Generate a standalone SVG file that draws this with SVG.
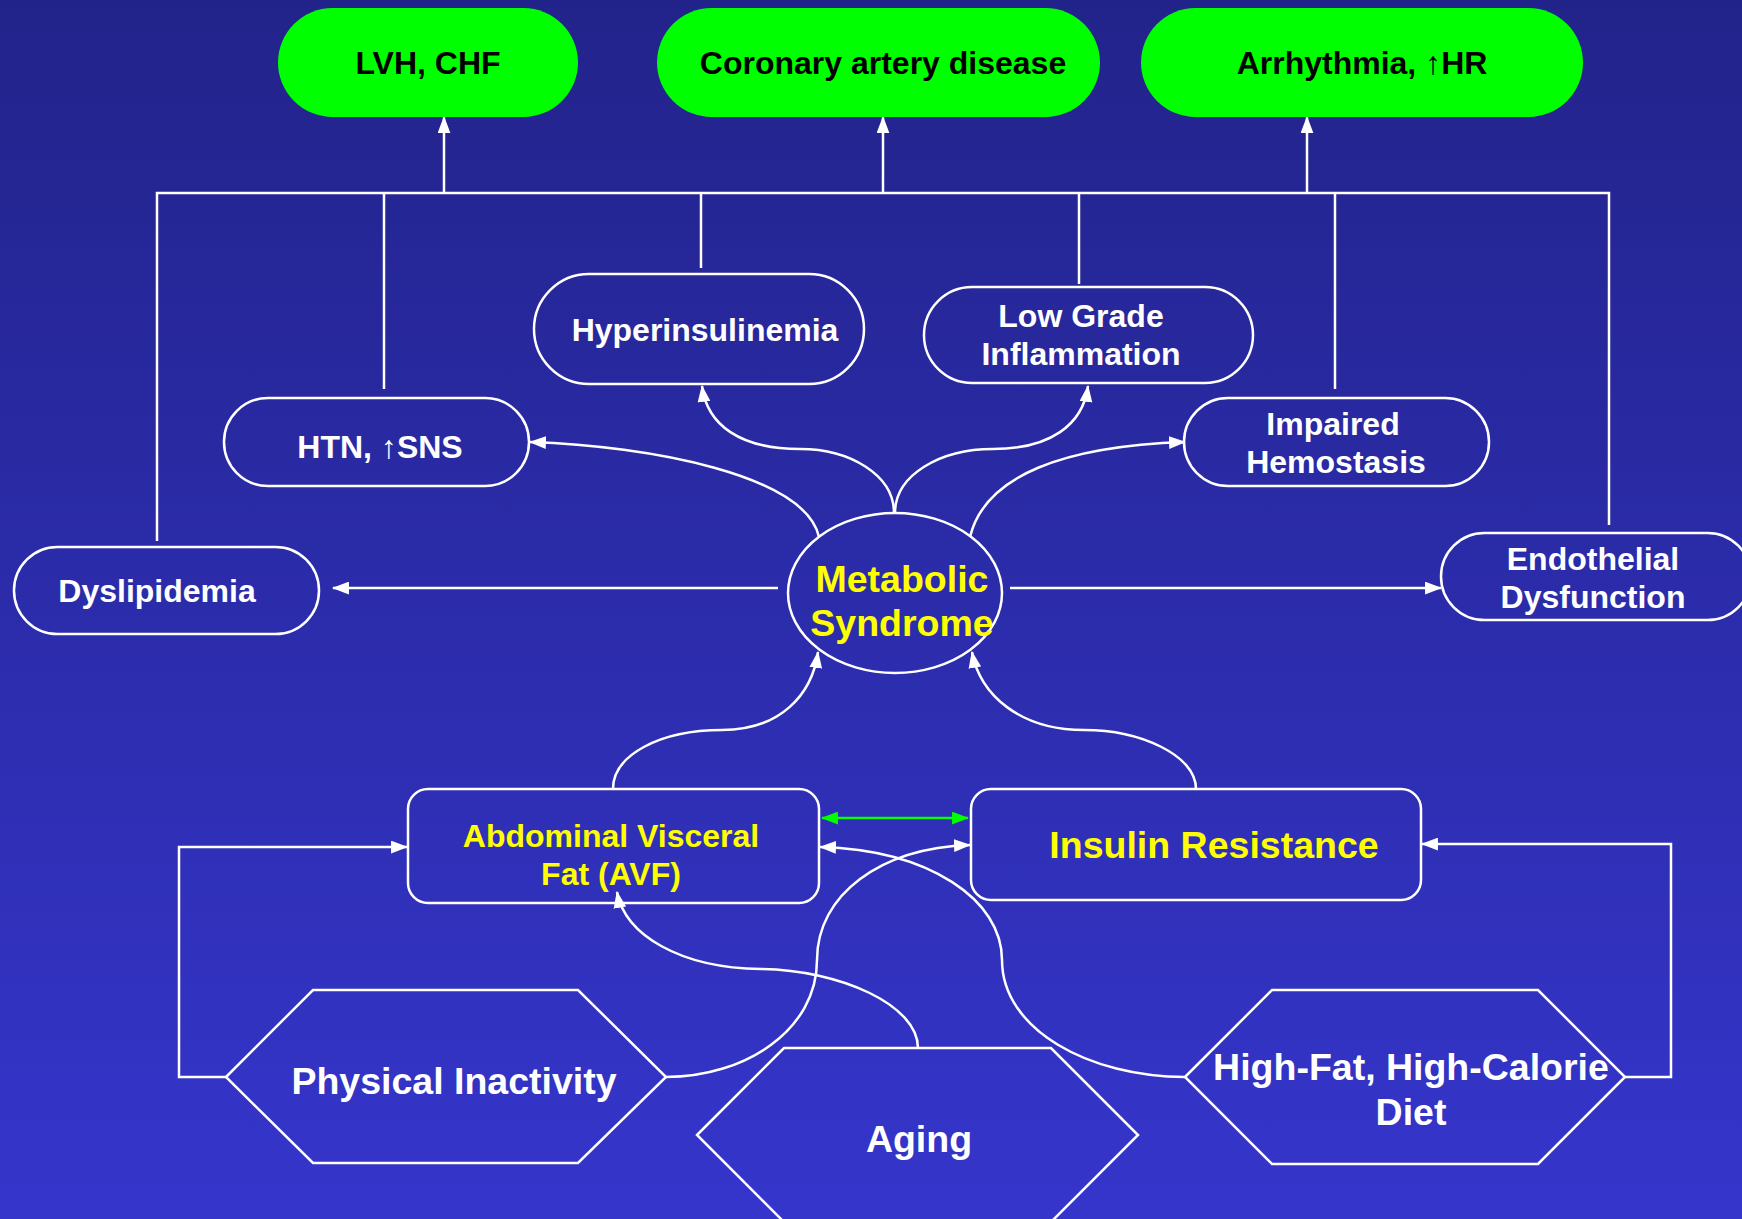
<svg xmlns="http://www.w3.org/2000/svg" width="1742" height="1219" viewBox="0 0 1742 1219">
<defs>
<linearGradient id="bg" x1="0" y1="0" x2="0" y2="1">
<stop offset="0" stop-color="#22238A"/>
<stop offset="1" stop-color="#3535CC"/>
</linearGradient>
<marker id="ah" viewBox="0 0 16 12" refX="15" refY="6" markerWidth="17" markerHeight="13" markerUnits="userSpaceOnUse" orient="auto"><path d="M0,0 L16,6 L0,12 z" fill="#fff"/></marker>
<marker id="ag" viewBox="0 0 16 12" refX="15" refY="6" markerWidth="17" markerHeight="13" markerUnits="userSpaceOnUse" orient="auto-start-reverse"><path d="M0,0 L16,6 L0,12 z" fill="#00FF00"/></marker>
<style>
.g{fill:#00FF00}
.n{fill:none;stroke:#fff;stroke-width:2.5}
.t{font-family:"Liberation Sans",Arial,sans-serif;font-weight:bold;text-anchor:middle}
.tb{fill:#000;font-size:32px}
.tw{fill:#fff;font-size:32px}
.tw37{fill:#fff;font-size:37.5px}
.ty{fill:#FFFF00;font-size:32px}
.ty37{fill:#FFFF00;font-size:37.5px}
.c{fill:none;stroke:#fff;stroke-width:2.5}
.ca{fill:none;stroke:#fff;stroke-width:2.5;marker-end:url(#ah)}
</style>
</defs>
<rect width="1742" height="1219" fill="url(#bg)"/>

<g id="connectors">
<polyline class="c" points="157,541 157,193 1609,193 1609,525"/>
<line class="c" x1="384" y1="193" x2="384" y2="389"/>
<line class="c" x1="701" y1="193" x2="701" y2="268"/>
<line class="c" x1="1079" y1="193" x2="1079" y2="284"/>
<line class="c" x1="1335" y1="193" x2="1335" y2="389"/>
<line class="ca" x1="444" y1="193" x2="444" y2="117"/>
<line class="ca" x1="883" y1="193" x2="883" y2="117"/>
<line class="ca" x1="1307" y1="193" x2="1307" y2="117"/>
<line class="ca" x1="778" y1="588" x2="333" y2="588"/>
<line class="ca" x1="1010" y1="588" x2="1441" y2="588"/>
<path class="ca" d="M819,537 C805,475 650,446 530,442"/>
<path class="ca" d="M970,537 C985,475 1065,446 1185,442"/>
<path class="ca" d="M894,513 C894,475 850,449 800,449 C740,449 707,425 702,386"/>
<path class="ca" d="M895,513 C895,475 940,449 993,449 C1050,449 1083,425 1088,386"/>
<path class="ca" d="M613,789 C613,755 660,730 722,730 C780,730 812,695 818,652"/>
<path class="ca" d="M1196,789 C1196,755 1140,730 1084,730 C1020,730 980,695 972,652"/>
<line x1="822" y1="818" x2="968" y2="818" stroke="#00FF00" stroke-width="2.5" marker-start="url(#ag)" marker-end="url(#ag)"/>
<polyline class="ca" points="226,1077 179,1077 179,847 407,847"/>
<polyline class="ca" points="1625,1077 1671,1077 1671,844 1422,844"/>
<path class="ca" d="M666,1077 C745,1077 817,1030 817,960 C817,895 880,848 970,845"/>
<path class="ca" d="M1185,1077 C1090,1077 1002,1030 1002,960 C1002,900 930,850 820,847"/>
<path class="ca" d="M918,1048 C918,1005 840,970 761,969 C680,968 625,935 617,892"/>
</g>

<g id="lvh"><rect class="g" x="278" y="8" width="300" height="109" rx="54.5"/><text class="t tb" x="428" y="74">LVH, CHF</text></g>
<g id="cad"><rect class="g" x="657" y="8" width="443" height="109" rx="54.5"/><text class="t tb" x="883" y="74">Coronary artery disease</text></g>
<g id="arrhythmia"><rect class="g" x="1141" y="8" width="442" height="109" rx="54.5"/><text class="t tb" x="1362" y="74">Arrhythmia, ↑HR</text></g>

<g id="hyperinsulinemia"><rect class="n" x="534" y="274" width="330" height="110" rx="55"/><text class="t tw" x="705" y="341">Hyperinsulinemia</text></g>
<g id="inflammation"><rect class="n" x="924" y="287" width="329" height="96" rx="48"/><text class="t tw" x="1081" y="327">Low Grade</text><text class="t tw" x="1081" y="365">Inflammation</text></g>
<g id="htn"><rect class="n" x="224" y="398" width="305" height="88" rx="44"/><text class="t tw" x="380" y="458">HTN, ↑SNS</text></g>
<g id="hemostasis"><rect class="n" x="1184" y="398" width="305" height="88" rx="44"/><text class="t tw" x="1333" y="435">Impaired</text><text class="t tw" x="1336" y="473">Hemostasis</text></g>
<g id="dyslipidemia"><rect class="n" x="14" y="547" width="305" height="87" rx="43.5"/><text class="t tw" x="157" y="602">Dyslipidemia</text></g>
<g id="endothelial"><rect class="n" x="1441" y="533" width="310" height="87" rx="43.5"/><text class="t tw" x="1593" y="570">Endothelial</text><text class="t tw" x="1593" y="608">Dysfunction</text></g>
<g id="metabolic"><ellipse class="n" cx="895" cy="593" rx="107" ry="80"/><text class="t ty37" x="902" y="592">Metabolic</text><text class="t ty37" x="902" y="636">Syndrome</text></g>
<g id="avf"><rect class="n" x="408" y="789" width="411" height="114" rx="20"/><text class="t ty" x="611" y="847">Abdominal Visceral</text><text class="t ty" x="611" y="885">Fat (AVF)</text></g>
<g id="insulin"><rect class="n" x="971" y="789" width="450" height="111" rx="20"/><text class="t ty37" x="1214" y="858">Insulin Resistance</text></g>
<g id="inactivity"><polygon class="n" points="226,1077 313,990 578,990 666,1077 578,1163 313,1163"/><text class="t tw37" x="454" y="1094">Physical Inactivity</text></g>
<g id="aging"><polygon class="n" points="697,1135 784,1048 1051,1048 1138,1135 1051,1222 784,1222"/><text class="t tw37" x="919" y="1152">Aging</text></g>
<g id="diet"><polygon class="n" points="1185,1077 1272,990 1538,990 1625,1077 1538,1164 1272,1164"/><text class="t tw37" x="1411" y="1080">High-Fat, High-Calorie</text><text class="t tw37" x="1411" y="1125">Diet</text></g>
</svg>
